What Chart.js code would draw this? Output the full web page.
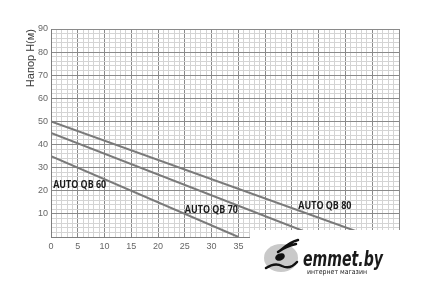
<!DOCTYPE html>
<html>
<head>
<meta charset="utf-8">
<script src="https://cdn.jsdelivr.net/npm/chart.js@4.4.0/dist/chart.umd.min.js"></script>
<style>
  html, body { margin: 0; padding: 0; background: #fff; }
  #wrap { width: 429px; height: 289px; position: relative; }
</style>
</head>
<body>
<div id="wrap"><canvas id="myChart"></canvas></div>
<script>
// flow Q (x) and head H (y), straight pump curves
var seriesNames = ["AUTO QB 60", "AUTO QB 70", "AUTO QB 80"];
var qb60Flow = [0, 35];
var qb60Head = [35, 0];
var qb70Flow = [0, 50];
var qb70Head = [45, 0];
var qb80Flow = [0, 60];
var qb80Head = [50, 0];

var xTicks = [0, 5, 10, 15, 20, 25, 30, 35, 40, 45, 50, 55, 60, 65];
var yTicks = [10, 20, 30, 40, 50, 60, 70, 80, 90];
var yTitle = "Напор Н(м)";

function toPoints(xs, ys) {
    return xs.map(function (x, i) { return { x: x, y: ys[i] }; });
}

// label anchors in data units (left edge, vertical middle)
var labelAt = [[0.4, 22.5], [25, 11.7], [46.2, 13.4]];

var curveLabels = {
    id: 'curveLabels',
    afterDatasetsDraw: function (chart) {
        var ctx = chart.ctx, xs = chart.scales.x, ys = chart.scales.y;
        ctx.save();
        ctx.font = 'bold 11px "Open Sans"';
        ctx.fillStyle = '#1a1a1a';
        ctx.textAlign = 'left';
        ctx.textBaseline = 'middle';
        seriesNames.forEach(function (name, i) {
            var px = xs.getPixelForValue(labelAt[i][0]), py = ys.getPixelForValue(labelAt[i][1]);
            var w = ctx.measureText(name).width;
            ctx.save();
            ctx.translate(px, py);
            ctx.scale(Math.min(1, 53 / w), 1);
            ctx.fillText(name, 0, 0);
            ctx.restore();
        });
        ctx.restore();
    },
    afterDraw: function (chart) {
        var ctx = chart.ctx;
        ctx.save();
        // shop logo patch over the bottom right corner
        ctx.fillStyle = '#fff';
        ctx.fillRect(250, 230, 179, 59);
        ctx.fillStyle = '#c9c9c9';
        ctx.beginPath();
        ctx.ellipse(281, 258, 17, 14, 0, 0, Math.PI * 2);
        ctx.fill();
        ctx.strokeStyle = '#111';
        ctx.lineWidth = 2.5;
        ctx.lineCap = 'round';
        ctx.beginPath();
        ctx.moveTo(266, 268); ctx.quadraticCurveTo(275, 262, 282, 266);
        ctx.quadraticCurveTo(290, 270, 297, 262);
        ctx.moveTo(278, 252); ctx.quadraticCurveTo(286, 246, 296, 244);
        ctx.moveTo(281, 250); ctx.quadraticCurveTo(290, 242, 298, 240);
        ctx.stroke();
        ctx.fillStyle = '#111';
        ctx.beginPath();
        ctx.ellipse(280, 257, 5, 3.5, -0.4, 0, Math.PI * 2);
        ctx.fill();
        ctx.fillStyle = '#1a1a1a';
        ctx.font = 'italic bold 21px "DejaVu Sans"';
        ctx.textBaseline = 'alphabetic';
        var tw = ctx.measureText('emmet.by').width;
        ctx.save();
        ctx.translate(303, 266);
        ctx.scale(80 / tw, 1);
        ctx.fillText('emmet.by', 0, 0);
        ctx.restore();
        ctx.font = '7px "DejaVu Sans"';
        var sw = ctx.measureText('интернет магазин').width;
        ctx.translate(307, 274);
        ctx.scale(60 / sw, 1);
        ctx.fillText('интернет магазин', 0, 0);
        ctx.restore();
    }
};

var lineStyle = { borderColor: '#7a7a7a', borderWidth: 2, pointRadius: 0, fill: false, tension: 0 };

var datasets = [
    Object.assign({ label: seriesNames[0], data: toPoints(qb60Flow, qb60Head) }, lineStyle),
    Object.assign({ label: seriesNames[1], data: toPoints(qb70Flow, qb70Head) }, lineStyle),
    Object.assign({ label: seriesNames[2], data: toPoints(qb80Flow, qb80Head) }, lineStyle)
];

var ctx = document.getElementById("myChart").getContext("2d");
var chart = new Chart(ctx, {
    type: 'line',
    data: { datasets: datasets },
    options: {
        responsive: true,
        maintainAspectRatio: false,
        animation: false,
        layout: { padding: { left: 0, top: 29, right: 30, bottom: 0 } },
        plugins: { legend: { display: false }, tooltip: { enabled: false } },
        scales: {
            x: {
                type: 'linear', min: 0, max: 65,
                afterFit: function (s) { s.height = 52; },
                afterBuildTicks: function (s) {
                    s.ticks = [];
                    for (var v = 0; v <= 65; v++) s.ticks.push({ value: v });
                },
                border: { color: '#7f7f7f', width: 1 },
                grid: {
                    drawTicks: false,
                    color: function (c) { return c.tick && c.tick.value % 5 === 0 ? '#8a8a8a' : '#d4d4d4'; }
                },
                ticks: {
                    autoSkip: false, maxRotation: 0, padding: 4,
                    color: '#666', font: { family: 'Liberation Sans', size: 9 },
                    callback: function (v) { return xTicks.indexOf(v) >= 0 ? String(v) : ''; }
                }
            },
            y: {
                type: 'linear', min: 0, max: 90,
                afterFit: function (s) { s.width = 51; },
                afterBuildTicks: function (s) {
                    s.ticks = [];
                    for (var v = 0; v <= 90; v += 2) s.ticks.push({ value: v });
                },
                border: { color: '#7f7f7f', width: 1 },
                grid: {
                    drawTicks: false,
                    color: function (c) { return c.tick && c.tick.value % 10 === 0 ? '#8a8a8a' : '#d4d4d4'; }
                },
                ticks: {
                    autoSkip: false, padding: 3,
                    color: '#666', font: { family: 'Liberation Sans', size: 9 },
                    callback: function (v) { return yTicks.indexOf(v) >= 0 ? String(v) : ''; }
                },
                title: {
                    display: true, text: yTitle, align: 'end',
                    color: '#3a3a3a', font: { family: 'Liberation Sans', size: 11 },
                    padding: { top: 24, bottom: 0 }
                }
            }
        }
    },
    plugins: [curveLabels]
});
</script>
</body>
</html>
